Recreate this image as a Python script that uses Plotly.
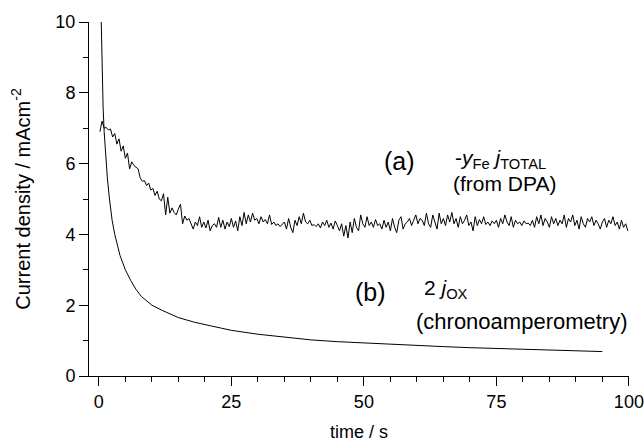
import plotly.graph_objects as go

# Curve (a): -y_Fe j_TOTAL (from DPA), sampled every 0.4 s from 0.2 s
a_vals = [
    6.9, 7.2, 7.0,
    7.02, 6.95, 6.98, 6.75, 6.85, 6.55, 6.7, 6.35, 6.5, 6.15,
    6.3, 5.85, 6.05, 5.95, 5.9, 5.85, 5.6, 5.5, 5.52, 5.38,
    5.45, 5.25, 5.3, 5.1, 5.22, 5.0, 4.95, 5.15, 4.55, 5.05,
    4.6, 4.75, 4.62, 4.55, 4.72, 4.85, 4.3, 4.52, 4.4, 4.45,
    4.3, 4.15, 4.35, 4.25, 4.5, 4.2, 4.35, 4.18, 4.4, 4.1,
    4.25, 4.3, 4.2, 4.48, 4.2, 4.4, 4.15, 4.35, 4.22, 4.45,
    # 25.4 - 35
    4.2, 4.38, 4.1, 4.5, 4.25, 4.62, 4.3, 4.55, 4.35, 4.6, 4.4, 4.45, 4.3,
    4.5, 4.35, 4.42, 4.3, 4.55, 4.28, 4.35, 4.25, 4.3, 4.22, 4.28, 4.35,
    # 35 - 45
    4.15, 4.45, 4.2, 4.05, 4.4, 4.25, 4.5, 4.3, 4.6, 4.35, 4.3, 4.4, 4.25,
    4.28, 4.22, 4.3, 4.18, 4.35, 4.25, 4.4, 4.2, 4.32, 4.15, 4.38, 4.25,
    # 45 - 55
    4.1, 4.3, 3.95, 4.25, 3.9, 4.35, 4.05, 4.45, 4.2, 4.1, 4.55, 4.3, 4.2,
    4.5, 4.25, 4.35, 4.2, 4.42, 4.25, 4.3, 4.15, 4.4, 4.2, 4.35, 4.1,
    # 55 - 65
    4.45, 4.2, 4.05, 4.4, 4.5, 4.15, 4.3, 4.35, 4.45, 4.25, 4.4, 4.55, 4.3,
    4.45, 4.4, 4.25, 4.6, 4.3, 4.2, 4.55, 4.35, 4.15, 4.6, 4.3, 4.45,
    # 65 - 75
    4.25, 4.55, 4.35, 4.62, 4.3, 4.45, 4.2, 4.5, 4.3, 4.4, 4.55, 4.25, 4.35,
    4.1, 4.5, 4.25, 4.42, 4.3, 4.5, 4.28, 4.35, 4.25, 4.38, 4.3, 4.4,
    # 75 - 85
    4.2, 4.45, 4.3, 4.55, 4.35, 4.25, 4.5, 4.2, 4.4, 4.3, 4.35, 4.25, 4.38,
    4.3, 4.32, 4.25, 4.4, 4.2, 4.5, 4.3, 4.55, 4.25, 4.45, 4.35, 4.2,
    # 85 - 95
    4.5, 4.3, 4.45, 4.25, 4.4, 4.3, 4.55, 4.2, 4.45, 4.35, 4.55, 4.25, 4.4,
    4.15, 4.5, 4.3, 4.2, 4.45, 4.35, 4.5, 4.25, 4.4, 4.3, 4.15, 4.35,
    # 95 - 99.8
    4.45, 4.2, 4.4, 4.3, 4.5, 4.25, 4.35, 4.15, 4.4, 4.2, 4.3, 4.1,
]
a_time = [round(0.2 + 0.4 * i, 2) for i in range(len(a_vals))]

# Curve (b): 2 j_OX (chronoamperometry)
b_time = [0.45, 0.6, 0.8, 1.0, 1.3, 1.6, 2, 2.5, 3, 4, 5, 6, 7, 8, 10, 12, 15,
          18, 21, 25, 30, 35, 40, 45, 50, 55, 60, 65, 70, 75, 80, 85, 90, 95]
b_vals = [10, 8.6, 7.6, 6.9, 6.2, 5.6, 5.0, 4.4, 4.0, 3.4, 3.0, 2.7, 2.45,
          2.25, 2.0, 1.85, 1.65, 1.52, 1.42, 1.29, 1.18, 1.09, 1.02, 0.97,
          0.93, 0.89, 0.86, 0.83, 0.80, 0.78, 0.75, 0.73, 0.71, 0.69]

x_ticks = [0, 25, 50, 75, 100]
y_ticks = [0, 2, 4, 6, 8, 10]

FONT = "Liberation Sans, Arial, sans-serif"

fig = go.Figure()
fig.add_trace(go.Scatter(x=a_time, y=a_vals, mode="lines",
                         line=dict(color="black", width=1), showlegend=False))
fig.add_trace(go.Scatter(x=b_time, y=b_vals, mode="lines",
                         line=dict(color="black", width=1), showlegend=False))

ann_font = dict(family=FONT, size=21, color="black")
big_font = dict(family=FONT, size=25, color="black")
annotations = [
    dict(x=56.7, y=6.07, text="(a)", xanchor="center", yanchor="middle",
         font=big_font),
    dict(x=66.9, y=6.12, text="-<i>y</i><sub>Fe</sub> <i>j</i><sub>TOTAL</sub>",
         xanchor="left", yanchor="middle", font=ann_font),
    dict(x=66.4, y=5.45, text="(from DPA)", xanchor="left", yanchor="middle",
         font=ann_font),
    dict(x=51.2, y=2.36, text="(b)", xanchor="center", yanchor="middle",
         font=big_font),
    dict(x=61.0, y=2.45, text="2 <i>j</i><sub>OX</sub>", xanchor="left",
         yanchor="middle", font=ann_font),
    dict(x=59.4, y=1.53, text="(chronoamperometry)", xanchor="left",
         yanchor="middle", font=dict(family=FONT, size=22, color="black")),
]
for a in annotations:
    a.update(xref="x", yref="y", showarrow=False)

fig.update_layout(
    width=644, height=442,
    margin=dict(l=89, r=15, t=22, b=66),
    paper_bgcolor="white", plot_bgcolor="white",
    font=dict(family=FONT, size=18, color="black"),
    annotations=annotations,
    xaxis=dict(range=[-1.86, 100.02], tickvals=x_ticks, ticks="outside",
               ticklen=9, tickwidth=1, tickcolor="black", showline=True,
               linecolor="black", linewidth=1, showgrid=False, zeroline=False,
               automargin=False,
               minor=dict(dtick=5, tick0=0, ticks="outside", ticklen=5,
                          tickcolor="black", showgrid=False),
               title=dict(text="time / s", standoff=17,
                          font=dict(size=18)),
               tickfont=dict(size=18)),
    yaxis=dict(range=[0, 10], tickvals=y_ticks, ticks="outside",
               ticklen=9, tickwidth=1, tickcolor="black", showline=True,
               linecolor="black", linewidth=1, showgrid=False, zeroline=False,
               automargin=False,
               minor=dict(dtick=1, tick0=0, ticks="outside", ticklen=5,
                          tickcolor="black", showgrid=False),
               title=dict(text="Current density / mAcm<sup>-2</sup>", standoff=19,
                          font=dict(size=20)),
               tickfont=dict(size=18)),
)

fig.write_html("out.html")
